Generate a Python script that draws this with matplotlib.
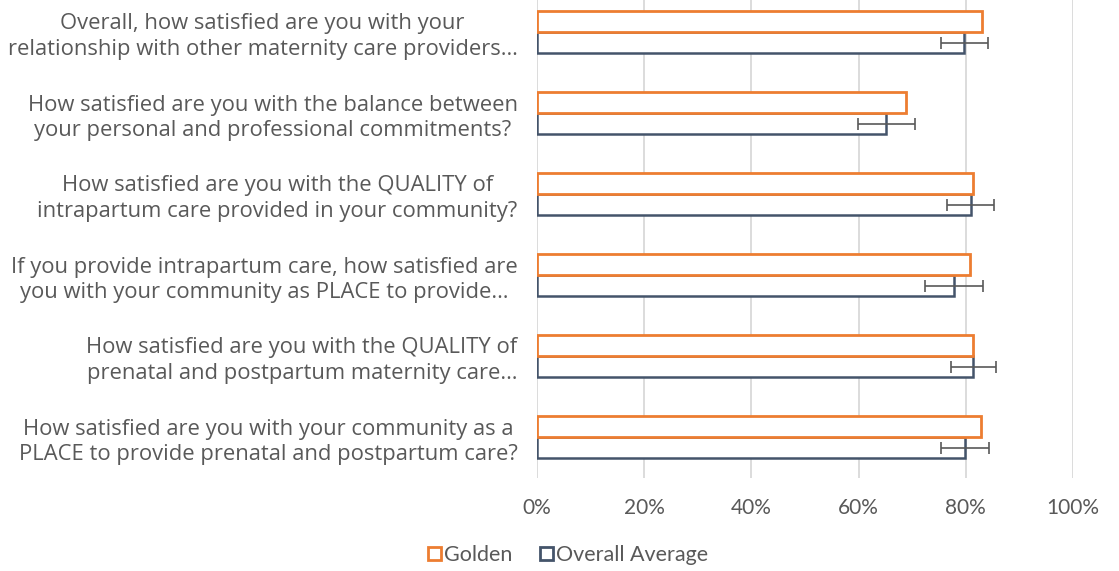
import numpy as np
import matplotlib.pyplot as plt
from matplotlib.patches import Patch
from matplotlib.ticker import FuncFormatter

# categories, top to bottom
questions = [
    "Overall, how satisfied are you with your\nrelationship with other maternity care providers…",
    "How satisfied are you with the balance between\nyour personal and professional commitments?",
    "How satisfied are you with the QUALITY of\nintrapartum care provided in your community?",
    "If you provide intrapartum care, how satisfied are\nyou with your community as PLACE to provide…",
    "How satisfied are you with the QUALITY of\nprenatal and postpartum maternity care…",
    "How satisfied are you with your community as a\nPLACE to provide prenatal and postpartum care?",
]
golden = [83.1, 68.8, 81.4, 80.8, 81.4, 82.9]
overall = [79.7, 65.2, 80.9, 77.8, 81.4, 79.9]
overall_err = [4.4, 5.3, 4.45, 5.4, 4.2, 4.45]
xticks = [0, 20, 40, 60, 80, 100]

orange = "#ED7D31"
navy = "#44546A"
text_col = "#595959"

fig = plt.figure(figsize=(11.19, 5.71), dpi=100)
ax = fig.add_axes([537 / 1119, 1 - 477.5 / 571, 536 / 1119, 477.5 / 571])

y = np.arange(len(questions))
h = 0.26

ax.barh(y + h / 2, overall, height=h, facecolor="white", edgecolor=navy, linewidth=1.8, zorder=3)
ax.barh(y - h / 2, golden, height=h, facecolor="white", edgecolor=orange, linewidth=2.0, zorder=4)
ax.errorbar(overall, y + h / 2, xerr=overall_err, fmt="none", ecolor="#595959",
            elinewidth=1.2, capsize=4, capthick=1.2, zorder=5)

ax.set_xlim(0, 100)
ax.set_ylim(5.5, 5.5 - 477.5 / 81)
ax.set_xticks(xticks)
ax.xaxis.set_major_formatter(FuncFormatter(lambda v, p: f"{v:.0f}%"))
ax.set_yticks(y)
ax.set_yticklabels(questions, multialignment="center", fontsize=15.8,
                   color=text_col, family="Open Sans", linespacing=1.3)
ax.tick_params(axis="y", length=0, pad=14)
ax.tick_params(axis="x", length=0, pad=15, labelsize=15, labelcolor=text_col)
for lab in ax.get_xticklabels():
    lab.set_family("Lato")
ax.grid(axis="x", color="#D9D9D9", linewidth=1.3, zorder=0)
ax.set_axisbelow(True)
for s in ax.spines.values():
    s.set_visible(False)

handles = [Patch(facecolor="white", edgecolor=orange, linewidth=2, label="Golden"),
           Patch(facecolor="white", edgecolor=navy, linewidth=2, label="Overall Average")]
fig.legend(handles=handles, loc="center", bbox_to_anchor=(568 / 1119, 1 - 555 / 571),
           ncol=2, frameon=False, handlelength=0.6, handleheight=0.6,
           handletextpad=0.15, columnspacing=1.3,
           prop={"family": "Lato", "size": 15.5}, labelcolor=text_col)

fig.savefig("out.png", dpi=100)
